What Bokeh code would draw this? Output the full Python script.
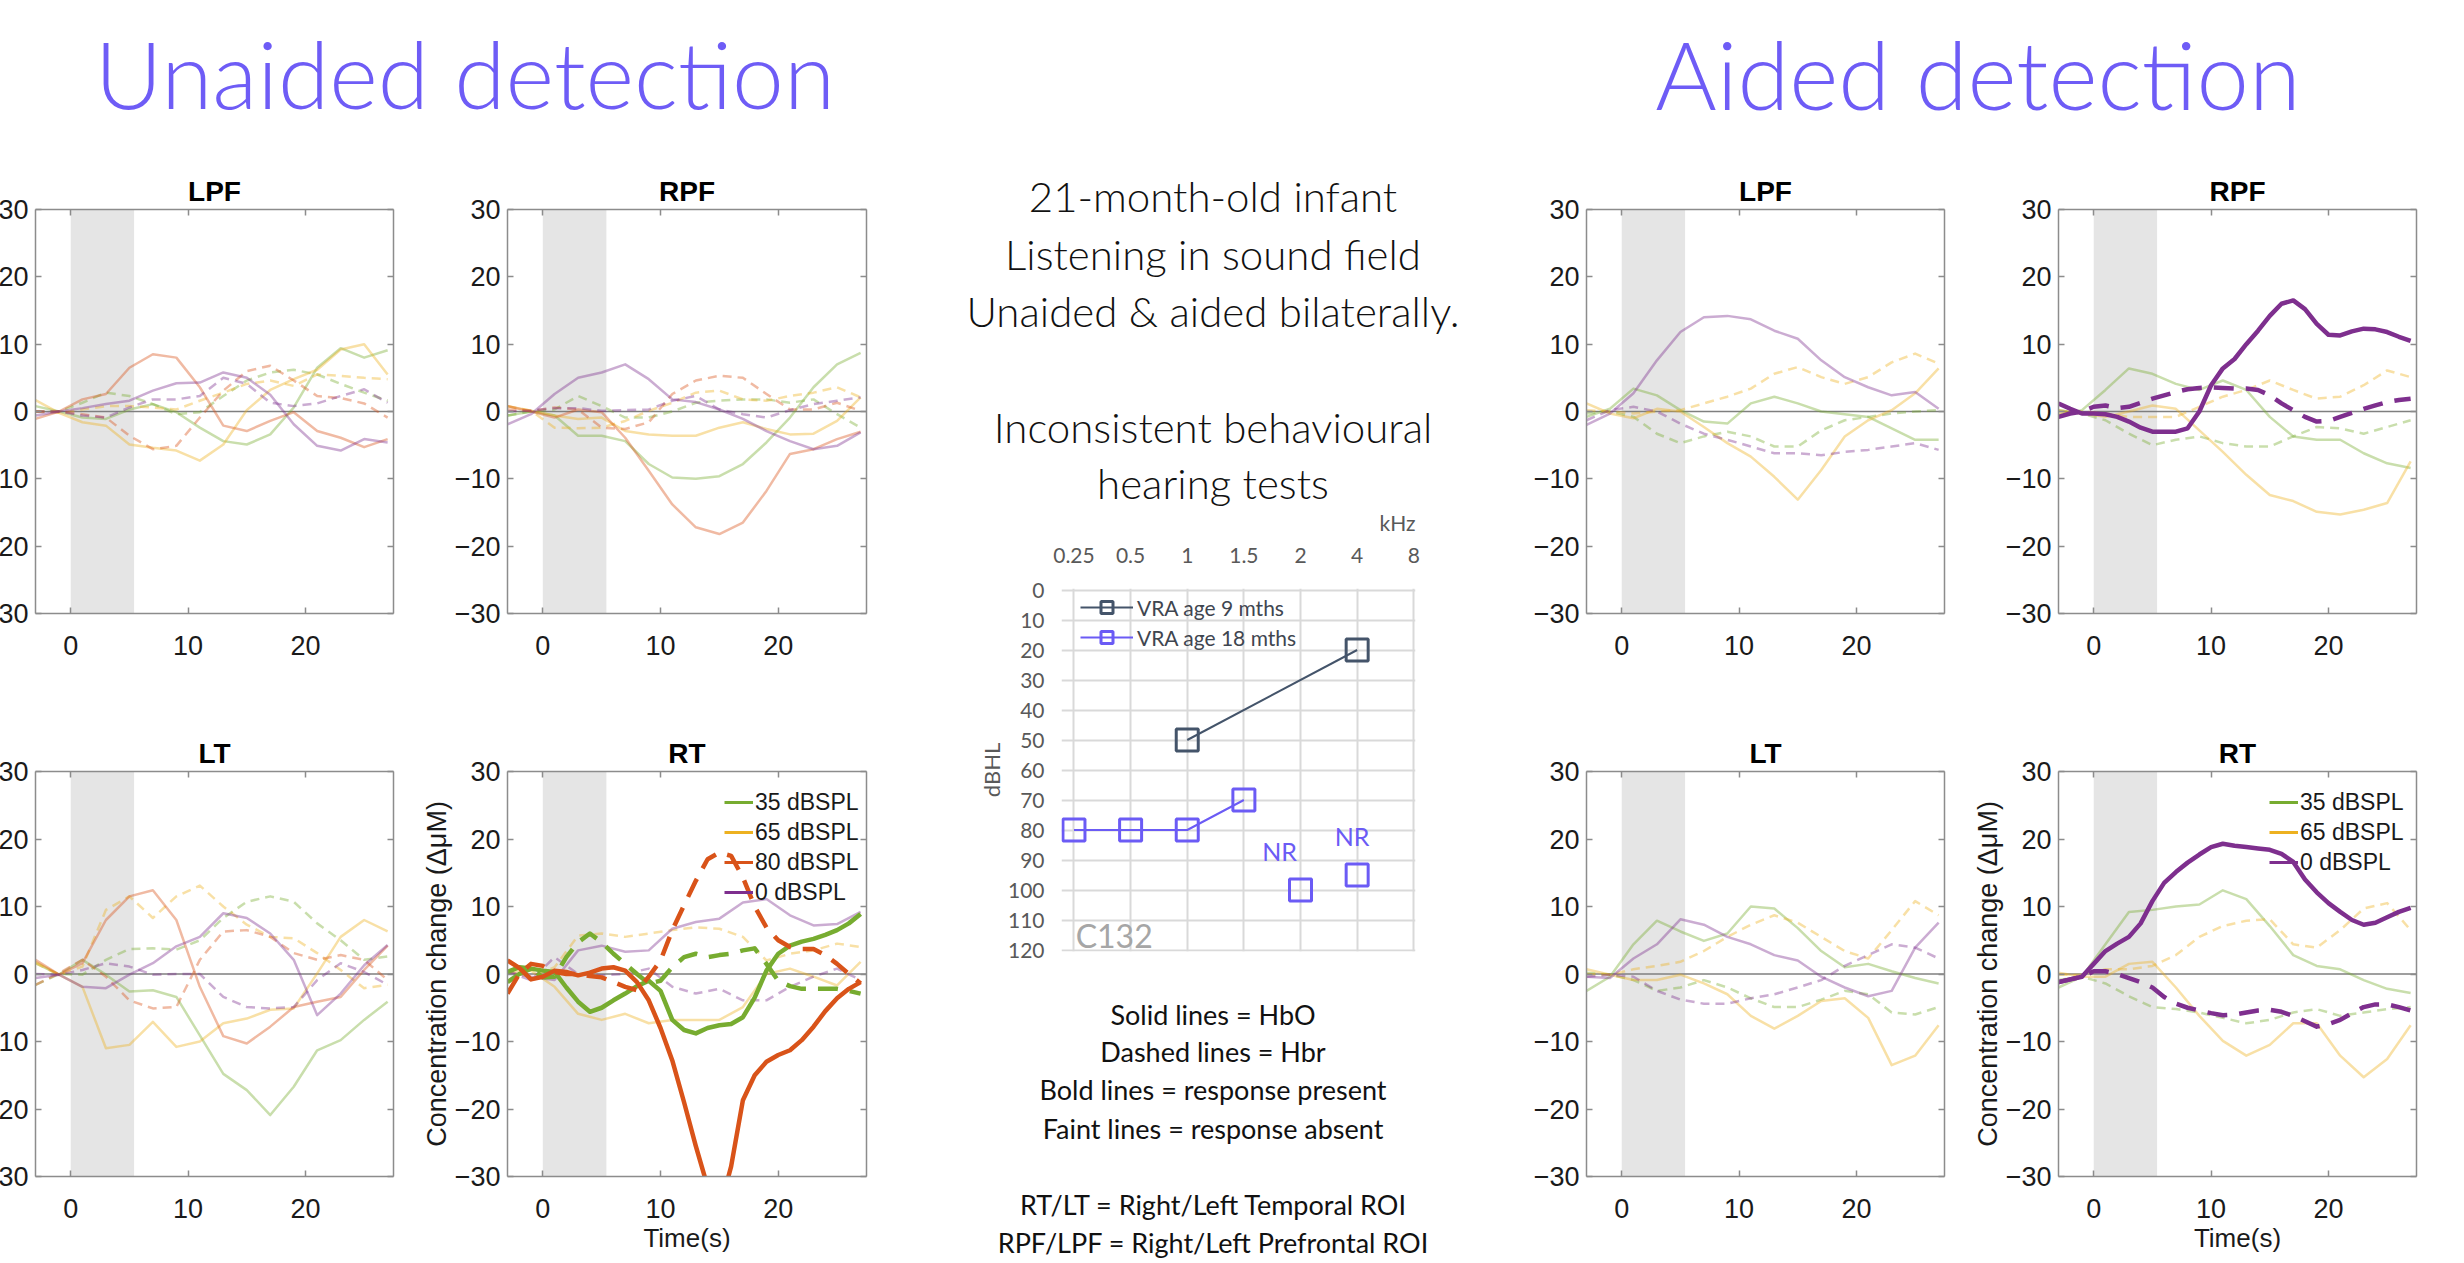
from bokeh.plotting import figure
from bokeh.models import (Range1d, LinearAxis, FixedTicker, BoxAnnotation, Span,
                          Legend, LegendItem, Div)
from bokeh.layouts import row, column
from bokeh.embed import file_html
from bokeh.resources import INLINE
from bokeh.core.properties import value
import html as _html

# ---------------- data ----------------
time_s = [-3, -1, 1, 3, 5, 7, 9, 11, 13, 15, 17, 19, 21, 23, 25, 27]
time_fine = [-3, -2, -1, 0, 1, 2, 3, 4, 5, 6, 7, 8, 9, 10, 11, 12, 13, 14, 15,
             16, 17, 18, 19, 20, 21, 22, 23, 24, 25, 26, 27]
stim_on, stim_off = 0, 5.4
y_ticks = [-30, -20, -10, 0, 10, 20, 30]
x_ticks = [0, 10, 20]
levels = ["35 dBSPL", "65 dBSPL", "80 dBSPL", "0 dBSPL"]
level_colors = ["#77AC30", "#EDB120", "#D95319", "#7E2F8E"]

# Unaided LPF (time_s)
u_lpf_35_hbo = [0.8, 0.0, -0.9, -1.1, 0.3, 1.1, -0.1, -2.4, -4.4, -4.9, -3.4, 0.6, 6.5, 9.4, 8.0, 9.1]
u_lpf_35_hbr = [0.0, 0.0, 1.3, 2.8, 2.3, 1.1, -0.4, -0.1, 2.3, 4.6, 5.8, 6.2, 5.5, 4.1, 2.8, 1.6]
u_lpf_65_hbo = [1.7, -0.2, -1.6, -2.1, -4.9, -5.4, -5.8, -7.3, -4.9, 0.2, 3.2, 4.8, 6.2, 9.2, 10.0, 5.5]
u_lpf_65_hbr = [0.0, -0.2, 0.3, 0.8, 0.8, 0.6, 0.3, 1.6, 2.8, 4.1, 4.6, 3.8, 5.5, 5.3, 5.0, 4.8]
u_lpf_80_hbo = [-1.1, 0.0, 1.8, 2.6, 6.5, 8.5, 8.0, 3.6, -2.1, -2.9, -1.4, -0.1, -2.9, -3.9, -5.3, -4.1]
u_lpf_80_hbr = [0.0, 0.0, -0.4, -0.9, -3.6, -5.6, -5.1, -0.9, 3.1, 6.0, 6.8, 4.6, 2.3, 2.0, 1.2, -0.9]
u_lpf_0_hbo = [-0.6, 0.0, 0.5, 1.1, 1.6, 3.1, 4.2, 4.3, 5.8, 5.0, 2.5, -1.9, -5.1, -5.8, -4.1, -4.6]
u_lpf_0_hbr = [0.0, 0.0, -0.6, -0.9, 0.6, 1.8, 1.8, 2.3, 5.0, 4.1, 1.3, 0.8, 1.2, 2.3, 3.3, 1.3]

# Unaided RPF (time_s)
u_rpf_35_hbo = [-0.6, 0.0, -0.6, -3.6, -3.6, -4.4, -7.8, -9.8, -10.0, -9.6, -7.8, -4.6, -0.9, 3.6, 7.0, 8.7]
u_rpf_35_hbr = [-0.6, 0.0, 0.3, 2.3, 0.8, -0.9, -0.9, 0.0, 1.3, 1.6, 1.8, 1.8, 1.3, 1.8, -0.4, -2.4]
u_rpf_65_hbo = [0.8, 0.1, -0.6, -1.1, -0.9, -2.9, -3.4, -3.6, -3.6, -2.4, -1.6, -2.6, -3.4, -3.3, -1.4, 2.1]
u_rpf_65_hbr = [0.8, 0.1, -2.4, -2.5, -2.4, -1.4, 0.1, 1.3, 2.8, 3.1, 1.8, 1.6, 2.3, 2.8, 3.6, 2.1]
u_rpf_80_hbo = [0.8, 0.0, -0.9, 0.3, -0.1, -3.9, -8.8, -13.8, -17.2, -18.2, -16.5, -11.8, -6.3, -5.6, -4.1, -3.0]
u_rpf_80_hbr = [0.3, 0.1, 0.6, 0.3, -2.4, -2.6, -1.6, 2.6, 4.6, 5.3, 5.0, 2.6, 0.3, 0.3, 1.3, 0.1]
u_rpf_0_hbo = [-1.9, -0.4, 2.6, 5.0, 5.8, 7.0, 4.8, 1.8, 1.4, 0.3, -1.1, -2.9, -4.4, -5.6, -5.1, -3.1]
u_rpf_0_hbr = [0.0, 0.1, 0.5, 0.5, 0.1, 0.2, 0.3, 1.6, 2.3, 0.3, -0.4, -0.9, 0.2, 1.1, 1.6, 2.1]

# Unaided LT (time_s)
u_lt_35_hbo = [1.6, -0.1, 2.1, -0.1, -2.6, -2.4, -3.4, -9.1, -14.8, -17.2, -20.9, -16.7, -11.3, -9.8, -6.8, -4.1]
u_lt_35_hbr = [-1.6, 0.0, -0.1, 2.1, 3.7, 3.8, 3.6, 5.0, 8.3, 10.7, 11.5, 10.7, 7.5, 5.0, 2.1, 2.6]
u_lt_65_hbo = [1.8, -0.1, -1.9, -11.0, -10.5, -7.1, -10.8, -10.0, -7.3, -6.6, -5.3, -5.1, 0.1, 5.5, 8.0, 6.3]
u_lt_65_hbr = [1.6, -0.1, 1.1, 9.5, 11.5, 8.3, 11.5, 13.1, 10.0, 7.3, 5.5, 5.3, 3.1, 0.6, -2.1, -1.6]
u_lt_80_hbo = [2.1, -0.1, 1.6, 8.0, 11.5, 12.4, 8.0, -1.9, -9.2, -10.3, -7.8, -4.9, -4.1, -3.4, 0.6, 4.2]
u_lt_80_hbr = [-1.6, 0.1, 2.1, -0.4, -3.9, -5.1, -4.9, 2.1, 6.3, 6.5, 5.5, 3.1, 2.1, 2.8, 2.1, -0.9]
u_lt_0_hbo = [-0.6, -0.1, -1.9, -2.1, -0.1, 1.6, 4.1, 5.5, 9.0, 8.3, 6.0, 2.1, -6.1, -2.9, 1.3, 4.3]
u_lt_0_hbr = [0.0, -0.1, 0.6, 1.6, 1.1, -0.1, 0.0, 0.0, -3.4, -4.9, -5.1, -4.9, -0.9, 1.6, 0.3, -1.6]

# Unaided RT (35 and 80 on time_fine, others on time_s)
u_rt_35_hbo = [-1.2, 0.0, 0.8, 0.5, 0.3, -2.0, -4.1, -5.6, -5.0, -3.9, -2.9, -1.8, -1.0, -2.5, -6.8, -8.3,
               -8.8, -8.0, -7.6, -7.4, -6.4, -3.5, 0.5, 3.0, 4.2, 4.8, 5.2, 5.8, 6.5, 7.5, 8.9]
u_rt_35_hbr = [0.3, 1.0, 0.8, -0.5, -0.4, 2.5, 4.7, 6.0, 4.7, 3.0, 1.5, 0.0, -1.4, -1.0, 1.0, 2.5,
               3.0, 2.5, 2.8, 3.0, 3.5, 3.8, 1.5, -1.0, -1.8, -2.2, -2.2, -2.2, -2.2, -2.5, -2.9]
u_rt_80_hbo = [2.0, 0.9, -0.8, -0.4, 0.5, 0.3, -0.2, 0.2, 0.8, 1.0, 0.5, -1.2, -3.9, -8.0, -12.8, -19.0,
               -25.5, -31.5, -35.0, -28.5, -18.7, -15.0, -13.0, -12.0, -11.3, -9.8, -7.8, -5.5, -3.6, -2.2, -1.2]
u_rt_80_hbr = [-2.9, 0.0, 1.5, 1.2, 0.3, 0.0, 0.0, -0.3, -0.5, -1.2, -1.9, -2.4, -0.4, 2.0, 6.5, 10.2,
               13.8, 17.0, 18.0, 17.5, 14.3, 10.0, 6.9, 5.0, 4.0, 3.7, 3.7, 2.8, 1.5, 0.0, -1.4]
u_rt_65_hbo = [0.3, 0.5, -1.9, -5.9, -6.8, -5.9, -7.3, -6.8, -6.8, -6.8, -4.9, 0.0, 0.8, -0.4, -1.7, 1.8]
u_rt_65_hbr = [0.3, -0.4, 1.0, 5.7, 6.0, 5.5, 6.0, 6.5, 6.9, 6.7, 5.5, 2.0, 3.0, 3.5, 4.5, 4.0]
u_rt_0_hbo = [0.3, -0.4, -0.9, 3.5, 4.2, 3.3, 3.5, 6.7, 7.7, 8.2, 10.6, 11.1, 8.7, 7.2, 7.4, 9.2]
u_rt_0_hbr = [0.3, -0.9, 2.5, 0.0, -0.2, 0.0, 0.8, -1.9, -2.9, -2.2, -3.9, -3.9, -1.9, -0.4, 0.8, -0.9]

# Aided LPF (time_s)
a_lpf_35_hbo = [-0.8, 0.4, 3.4, 2.4, 0.2, -1.5, -1.8, 1.2, 2.2, 1.2, 0.0, -0.4, -0.8, -2.5, -4.2, -4.2]
a_lpf_35_hbr = [-0.3, 0.0, -0.8, -3.3, -4.7, -3.7, -3.0, -3.7, -5.2, -5.2, -2.8, -1.3, -0.8, -0.3, 0.0, 0.2]
a_lpf_65_hbo = [1.2, -0.3, -1.0, 0.4, 0.0, -2.3, -4.7, -6.7, -9.7, -13.1, -8.7, -3.7, -1.3, 0.2, 2.7, 6.4]
a_lpf_65_hbr = [0.2, 0.0, -0.3, 0.0, 0.2, 1.2, 2.2, 3.4, 5.6, 6.6, 5.1, 4.1, 5.1, 7.3, 8.6, 7.1]
a_lpf_0_hbo = [-2.0, -0.3, 2.7, 7.6, 11.8, 14.0, 14.2, 13.7, 12.0, 10.8, 7.6, 5.1, 3.6, 2.4, 2.9, 0.4]
a_lpf_0_hbr = [-1.3, 0.2, 0.7, 0.0, -1.8, -3.3, -4.2, -5.2, -6.2, -6.2, -6.5, -6.0, -5.7, -5.2, -4.7, -5.7]

# Aided RPF (0 dBSPL on time_fine)
a_rpf_35_hbo = [-0.5, 0.2, 3.2, 6.4, 5.6, 4.1, 3.2, 4.6, 3.2, -0.8, -3.7, -4.2, -4.2, -6.2, -7.7, -8.4]
a_rpf_35_hbr = [0.2, -0.3, -1.3, -3.3, -5.0, -4.2, -3.7, -4.7, -5.2, -5.2, -3.7, -2.3, -2.5, -3.3, -2.3, -1.3]
a_rpf_65_hbo = [0.2, -0.3, -0.8, 0.0, 0.9, 0.4, -2.8, -6.0, -9.4, -12.4, -13.3, -14.9, -15.3, -14.6, -13.6, -7.4]
a_rpf_65_hbr = [-0.3, 0.0, -0.3, -0.8, -0.8, -0.8, 0.7, 2.2, 3.2, 4.6, 3.2, 1.9, 2.2, 3.9, 6.1, 5.1]
a_rpf_0_hbo = [1.2, 0.4, -0.3, -0.3, -0.4, -0.8, -1.5, -2.4, -3.0, -3.0, -3.0, -2.5, 0.0, 3.9, 6.4, 7.8,
               10.0, 12.0, 14.2, 16.0, 16.5, 15.2, 13.0, 11.4, 11.3, 11.9, 12.3, 12.2, 11.8, 11.1, 10.5]
a_rpf_0_hbr = [-0.8, -0.3, 0.0, 0.7, 0.9, 0.5, 0.7, 1.3, 1.9, 2.4, 2.9, 3.3, 3.5, 3.6, 3.5, 3.4,
               3.4, 3.2, 2.4, 1.2, 0.2, -0.8, -1.5, -1.4, -0.8, -0.2, 0.4, 0.9, 1.4, 1.7, 1.9]

# Aided LT (time_s)
a_lt_35_hbo = [-2.5, -0.4, 4.4, 7.9, 6.3, 4.9, 6.0, 10.0, 9.7, 6.8, 3.4, 1.0, 1.5, 0.4, -0.6, -1.4]
a_lt_35_hbr = [0.2, -0.1, -0.9, -2.5, -2.0, -0.9, -2.0, -3.6, -4.9, -4.9, -3.8, -2.5, -3.0, -5.7, -6.0, -4.9]
a_lt_65_hbo = [0.7, -0.1, -0.9, -0.9, -0.1, -1.4, -3.0, -6.2, -8.1, -6.2, -4.0, -3.6, -6.5, -13.5, -12.1, -7.6]
a_lt_65_hbr = [0.0, -0.1, 0.7, 1.2, 1.8, 3.4, 5.5, 7.3, 8.7, 7.6, 5.5, 3.4, 2.3, 6.5, 10.8, 8.7]
a_lt_0_hbo = [-0.4, -0.6, 2.3, 4.4, 8.1, 7.3, 5.5, 4.4, 2.8, 2.0, -0.4, -2.0, -3.3, -2.5, 3.9, 7.6]
a_lt_0_hbr = [-0.4, -0.1, -0.4, -2.5, -3.8, -4.4, -4.4, -3.6, -3.0, -2.0, -0.9, 1.2, 2.8, 4.4, 3.9, 2.3]

# Aided RT (0 dBSPL on time_fine)
a_rt_35_hbo = [-2.0, -0.4, 4.4, 9.2, 9.5, 10.0, 10.3, 12.4, 11.1, 7.1, 2.8, 1.2, 0.7, -0.9, -2.2, -2.8]
a_rt_35_hbr = [-0.9, -0.4, -1.4, -3.3, -4.9, -5.2, -5.7, -6.5, -7.3, -6.8, -5.7, -5.2, -6.2, -5.7, -5.2, -4.9]
a_rt_65_hbo = [0.2, -0.4, -0.4, 1.5, 1.8, -2.0, -6.2, -9.9, -12.1, -10.5, -7.3, -7.3, -12.1, -15.3, -12.6, -7.6]
a_rt_65_hbr = [-0.1, -0.1, 0.7, 0.7, 1.2, 2.8, 5.5, 7.1, 7.9, 8.1, 4.4, 3.9, 6.5, 9.7, 10.5, 6.5]
a_rt_0_hbo = [-1.2, -0.8, -0.4, 1.5, 3.4, 4.5, 5.5, 7.5, 10.8, 13.5, 15.1, 16.5, 17.7, 18.8, 19.3, 19.0,
              18.8, 18.6, 18.4, 17.8, 16.6, 14.0, 12.1, 10.5, 9.2, 8.0, 7.3, 7.6, 8.4, 9.2, 9.8]
a_rt_0_hbr = [-1.2, -0.8, -0.4, 0.4, 0.4, 0.0, -0.6, -1.2, -2.0, -3.4, -4.4, -5.0, -5.4, -5.8, -6.1, -6.0,
              -5.7, -5.4, -5.3, -5.6, -6.2, -7.0, -7.8, -7.4, -6.8, -5.8, -4.9, -4.5, -4.5, -4.9, -5.4]

# Audiogram
freq_labels = ["0.25", "0.5", "1", "1.5", "2", "4", "8"]
freq_pos = [0, 1, 2, 3, 4, 5, 6]
dbhl_ticks = [0, 10, 20, 30, 40, 50, 60, 70, 80, 90, 100, 110, 120]
vra9_pos = [2, 5]
vra9_db = [50, 20]
vra18_pos = [0, 1, 2, 3]
vra18_db = [80, 80, 80, 70]
vra18_nr_pos = [4, 5]
vra18_nr_db = [100, 95]

mid_top_lines = ["21-month-old infant", "Listening in sound field", "Unaided & aided bilaterally.",
                 "Inconsistent behavioural", "hearing tests"]
mid_bottom_lines = ["Solid lines = HbO", "Dashed lines = Hbr", "Bold lines = response present",
                    "Faint lines = response absent", "RT/LT = Right/Left Temporal ROI",
                    "RPF/LPF = Right/Left Prefrontal ROI"]

S, F = time_s, time_fine
panels = {
    ("u", "LPF"): {"35 dBSPL": (S, u_lpf_35_hbo, u_lpf_35_hbr), "65 dBSPL": (S, u_lpf_65_hbo, u_lpf_65_hbr),
                   "80 dBSPL": (S, u_lpf_80_hbo, u_lpf_80_hbr), "0 dBSPL": (S, u_lpf_0_hbo, u_lpf_0_hbr)},
    ("u", "RPF"): {"35 dBSPL": (S, u_rpf_35_hbo, u_rpf_35_hbr), "65 dBSPL": (S, u_rpf_65_hbo, u_rpf_65_hbr),
                   "80 dBSPL": (S, u_rpf_80_hbo, u_rpf_80_hbr), "0 dBSPL": (S, u_rpf_0_hbo, u_rpf_0_hbr)},
    ("u", "LT"): {"35 dBSPL": (S, u_lt_35_hbo, u_lt_35_hbr), "65 dBSPL": (S, u_lt_65_hbo, u_lt_65_hbr),
                  "80 dBSPL": (S, u_lt_80_hbo, u_lt_80_hbr), "0 dBSPL": (S, u_lt_0_hbo, u_lt_0_hbr)},
    ("u", "RT"): {"35 dBSPL": (F, u_rt_35_hbo, u_rt_35_hbr), "65 dBSPL": (S, u_rt_65_hbo, u_rt_65_hbr),
                  "80 dBSPL": (F, u_rt_80_hbo, u_rt_80_hbr), "0 dBSPL": (S, u_rt_0_hbo, u_rt_0_hbr)},
    ("a", "LPF"): {"35 dBSPL": (S, a_lpf_35_hbo, a_lpf_35_hbr), "65 dBSPL": (S, a_lpf_65_hbo, a_lpf_65_hbr),
                   "0 dBSPL": (S, a_lpf_0_hbo, a_lpf_0_hbr)},
    ("a", "RPF"): {"35 dBSPL": (S, a_rpf_35_hbo, a_rpf_35_hbr), "65 dBSPL": (S, a_rpf_65_hbo, a_rpf_65_hbr),
                   "0 dBSPL": (F, a_rpf_0_hbo, a_rpf_0_hbr)},
    ("a", "LT"): {"35 dBSPL": (S, a_lt_35_hbo, a_lt_35_hbr), "65 dBSPL": (S, a_lt_65_hbo, a_lt_65_hbr),
                  "0 dBSPL": (S, a_lt_0_hbo, a_lt_0_hbr)},
    ("a", "RT"): {"35 dBSPL": (S, a_rt_35_hbo, a_rt_35_hbr), "65 dBSPL": (S, a_rt_65_hbo, a_rt_65_hbr),
                  "0 dBSPL": (F, a_rt_0_hbo, a_rt_0_hbr)},
}
bold = {("u", "RT", "35 dBSPL"), ("u", "RT", "80 dBSPL"), ("a", "RPF", "0 dBSPL"), ("a", "RT", "0 dBSPL")}

# ---------------- styling ----------------
SANS = "Liberation Sans"
LIGHT_CSS = "'Lato Light', Lato, sans-serif"
AXC = "#8C8C8C"
COL = dict(zip(levels, level_colors))


def style_axis(ax, labels=True, ticks=None):
    ax.axis_line_color = AXC
    ax.axis_line_width = 1.5
    ax.major_tick_line_color = AXC
    ax.major_tick_line_width = 1.5
    ax.major_tick_in = 6
    ax.major_tick_out = 0
    ax.minor_tick_line_color = None
    if labels:
        ax.major_label_text_font = SANS
        ax.major_label_text_font_size = "27px"
        ax.major_label_text_color = "#1A1A1A"
    else:
        ax.major_label_overrides = {t: "" for t in ticks}
        ax.major_label_text_font_size = "1px"
        ax.major_label_standoff = 0


def make_panel(grp, name, L, R, T, B, FW, FH, ylabel=None, xlabel=None, legend_loc=None):
    p = figure(frame_width=FW, frame_height=FH, min_border_left=L, min_border_right=R,
               min_border_top=T, min_border_bottom=B, x_range=Range1d(-3, 27.5),
               y_range=Range1d(-30, 30), output_backend="svg", toolbar_location=None, title=name)
    p.outline_line_color = None
    p.grid.visible = False
    p.title.align = "center"
    p.title.text_font = SANS
    p.title.text_font_size = "28px"
    p.title.text_font_style = "bold"
    p.title.text_color = "#000000"
    p.title.standoff = 5
    p.add_layout(BoxAnnotation(left=stim_on, right=stim_off, fill_color="#E5E5E5", fill_alpha=1.0,
                               line_color=None, level="underlay"))
    p.add_layout(Span(location=0, dimension="width", line_color="#7F7F7F", line_width=1.5, level="underlay"))

    bottom_ax = p.below[0]
    left_ax = p.left[0]
    bottom_ax.ticker = FixedTicker(ticks=x_ticks)
    left_ax.ticker = FixedTicker(ticks=y_ticks)
    style_axis(bottom_ax)
    bottom_ax.major_label_standoff = 22
    style_axis(left_ax)
    left_ax.major_label_standoff = 7
    top = LinearAxis(ticker=FixedTicker(ticks=x_ticks))
    style_axis(top, labels=False, ticks=x_ticks)
    p.add_layout(top, "above")
    right = LinearAxis(ticker=FixedTicker(ticks=y_ticks))
    style_axis(right, labels=False, ticks=y_ticks)
    p.add_layout(right, "right")

    if ylabel:
        left_ax.axis_label = ylabel
        left_ax.axis_label_text_font = SANS
        left_ax.axis_label_text_font_size = "27px"
        left_ax.axis_label_text_font_style = "normal"
        left_ax.axis_label_text_color = "#1A1A1A"
        left_ax.axis_label_standoff = 0
    if xlabel:
        bottom_ax.axis_label = xlabel
        bottom_ax.axis_label_text_font = SANS
        bottom_ax.axis_label_text_font_size = "26px"
        bottom_ax.axis_label_text_font_style = "normal"
        bottom_ax.axis_label_text_color = "#1A1A1A"
        bottom_ax.axis_label_standoff = 2

    series = panels[(grp, name)]
    order = [l for l in levels if l in series and (grp, name, l) not in bold] + \
            [l for l in levels if l in series and (grp, name, l) in bold]
    for lvl in order:
        t, hbo, hbr = series[lvl]
        is_b = (grp, name, lvl) in bold
        w = 4.5 if is_b else 2.5
        a = 1.0 if is_b else 0.4
        p.line(t, hbo, line_color=COL[lvl], line_width=w, line_alpha=a, line_join="round")
        p.line(t, hbr, line_color=COL[lvl], line_width=w, line_alpha=a, line_join="round",
               line_dash="20 12" if is_b else "9 6")

    if legend_loc is not None:
        items = []
        for lvl in levels:
            if lvl in series:
                t, hbo, _ = series[lvl]
                r = p.line(x=t[:1], y=hbo[:1], line_color=COL[lvl], line_width=3)
                items.append(LegendItem(label=lvl, renderers=[r]))
        lg = Legend(items=items, location=legend_loc, padding=0, spacing=0, margin=0,
                    glyph_width=29, glyph_height=30, label_height=30, label_standoff=2,
                    label_text_font=SANS, label_text_font_size="23px", label_text_color="#1A1A1A",
                    background_fill_alpha=0, border_line_color=None)
        p.add_layout(lg)
    return p


def text_block(w, h, lines, centre_x, tops, font, size, color, line_h):
    parts = ['<div style="position:relative;width:%dpx;height:%dpx;">' % (w, h)]
    for line, top in zip(lines, tops):
        parts.append(
            '<div style="position:absolute;left:%dpx;width:1000px;top:%.1fpx;text-align:center;'
            'white-space:nowrap;font-family:%s;font-size:%dpx;line-height:%dpx;color:%s;">%s</div>'
            % (centre_x - 500, top, font, size, line_h, color, _html.escape(line)))
    parts.append('</div>')
    return Div(text="".join(parts), width=w, height=h, margin=0, styles={"overflow": "visible"})


# ---------------- left column (unaided); layout origin at window x = -13, y = 0 ----------------
title_l = text_block(893, 150, ["Unaided detection"], 486, [27], LIGHT_CSS, 93, "#6E5CF6", 93)

u_lpf = make_panel("u", "LPF", 48, 28, 59, 87, 358, 404)
u_rpf = make_panel("u", "RPF", 86, 14, 59, 87, 359, 404)
u_lt = make_panel("u", "LT", 48, 18, 71, 86, 358, 405)
u_rt = make_panel("u", "RT", 96, 14, 71, 86, 359, 405, ylabel="Concentration change (\u0394\u03bcM)",
                  xlabel="Time(s)", legend_loc=(217, 269))
left_col = column(title_l, row(u_lpf, u_rpf), row(u_lt, u_rt))

# ---------------- middle column (window x 880 .. 1530) ----------------
mid_top = text_block(650, 495, mid_top_lines, 333, [175, 233, 290, 406, 462], LIGHT_CSS, 42, "#111111", 42)

aud = figure(frame_width=354, frame_height=363, min_border_left=181, min_border_right=115,
             min_border_top=93, min_border_bottom=34, x_range=Range1d(-0.22, 6.03),
             y_range=Range1d(120.5, -0.5), x_axis_location="above", output_backend="svg",
             toolbar_location=None, title="kHz")
aud.outline_line_color = None
aud.border_fill_color = None
aud.title.align = "right"
aud.title.text_font = "Lato"
aud.title.text_font_size = "21px"
aud.title.text_font_style = "normal"
aud.title.text_color = "#595959"
aud.title.standoff = 20
aud.xaxis.ticker = FixedTicker(ticks=freq_pos)
aud.xaxis.major_label_overrides = {p: s for p, s in zip(freq_pos, freq_labels)}
aud.yaxis.ticker = FixedTicker(ticks=dbhl_ticks)
for ax in aud.axis:
    ax.axis_line_color = None
    ax.major_tick_line_color = None
    ax.minor_tick_line_color = None
    ax.major_label_text_font = "Lato"
    ax.major_label_text_font_size = "21px"
    ax.major_label_text_color = "#595959"
aud.xaxis.major_label_standoff = 20
aud.yaxis.major_label_standoff = 11
aud.yaxis.axis_label = "dBHL"
aud.yaxis.axis_label_text_font = "Lato"
aud.yaxis.axis_label_text_font_size = "22px"
aud.yaxis.axis_label_text_font_style = "normal"
aud.yaxis.axis_label_text_color = "#595959"
aud.yaxis.axis_label_standoff = 0
aud.grid.grid_line_color = "#D9D9D9"
aud.grid.grid_line_width = 2

C9 = "#44546A"
C18 = "#6B5BF5"
l9 = aud.line(vra9_pos, vra9_db, line_color=C9, line_width=2)
s9 = aud.scatter(vra9_pos, vra9_db, marker="square", size=22, line_color=C9, line_width=3, fill_color=None)
l18 = aud.line(vra18_pos, vra18_db, line_color=C18, line_width=2)
s18 = aud.scatter(vra18_pos, vra18_db, marker="square", size=22, line_color=C18, line_width=3, fill_color=None)
aud.scatter(vra18_nr_pos, vra18_nr_db, marker="square", size=22, line_color=C18, line_width=3, fill_color=None)
aud.text(x=vra18_nr_pos, y=vra18_nr_db, text=["NR", "NR"], x_offset=[-21, -5], y_offset=[-39, -39],
         text_align="center", text_baseline="middle", text_font=value("Lato"), text_font_size="25px",
         text_color=C18)
aud.text(x=[0.03], y=[115], text=["C132"], text_align="left", text_baseline="middle",
         text_font=value("Lato"), text_font_size="32px", text_color="#A6A6A6")
aud.add_layout(Legend(items=[LegendItem(label="VRA age 9 mths", renderers=[l9, s9]),
                             LegendItem(label="VRA age 18 mths", renderers=[l18, s18])],
                      location=(19, 299), padding=0, spacing=0, margin=0,
                      glyph_width=53, glyph_height=30, label_height=30, label_standoff=4,
                      label_text_font="Lato", label_text_font_size="21px", label_text_color="#3F4650",
                      background_fill_alpha=0, border_line_color=None))

mid_bot = text_block(650, 277, mid_bottom_lines, 333, [16, 53, 91, 130, 206, 244], "Lato, sans-serif",
                     27, "#111111", 27)
mid_col = column(mid_top, aud, mid_bot)

# ---------------- right column (aided), window x 1530 .. 2456 ----------------
title_r = text_block(926, 150, ["Aided detection"], 448, [27], LIGHT_CSS, 94, "#6E5CF6", 94)

a_lpf = make_panel("a", "LPF", 53, 29, 59, 87, 358, 404)
a_rpf = make_panel("a", "RPF", 85, 43, 59, 87, 358, 404)
a_lt = make_panel("a", "LT", 53, 19, 71, 86, 358, 405)
a_rt = make_panel("a", "RT", 95, 43, 71, 86, 358, 405, ylabel="Concentration change (\u0394\u03bcM)",
                  xlabel="Time(s)", legend_loc=(211, 299))
right_col = column(title_r, row(a_lpf, a_rpf), row(a_lt, a_rt))

root = row(left_col, mid_col, right_col, margin=(0, 0, 0, -21))

open("out.html", "w").write(file_html(root, INLINE))
